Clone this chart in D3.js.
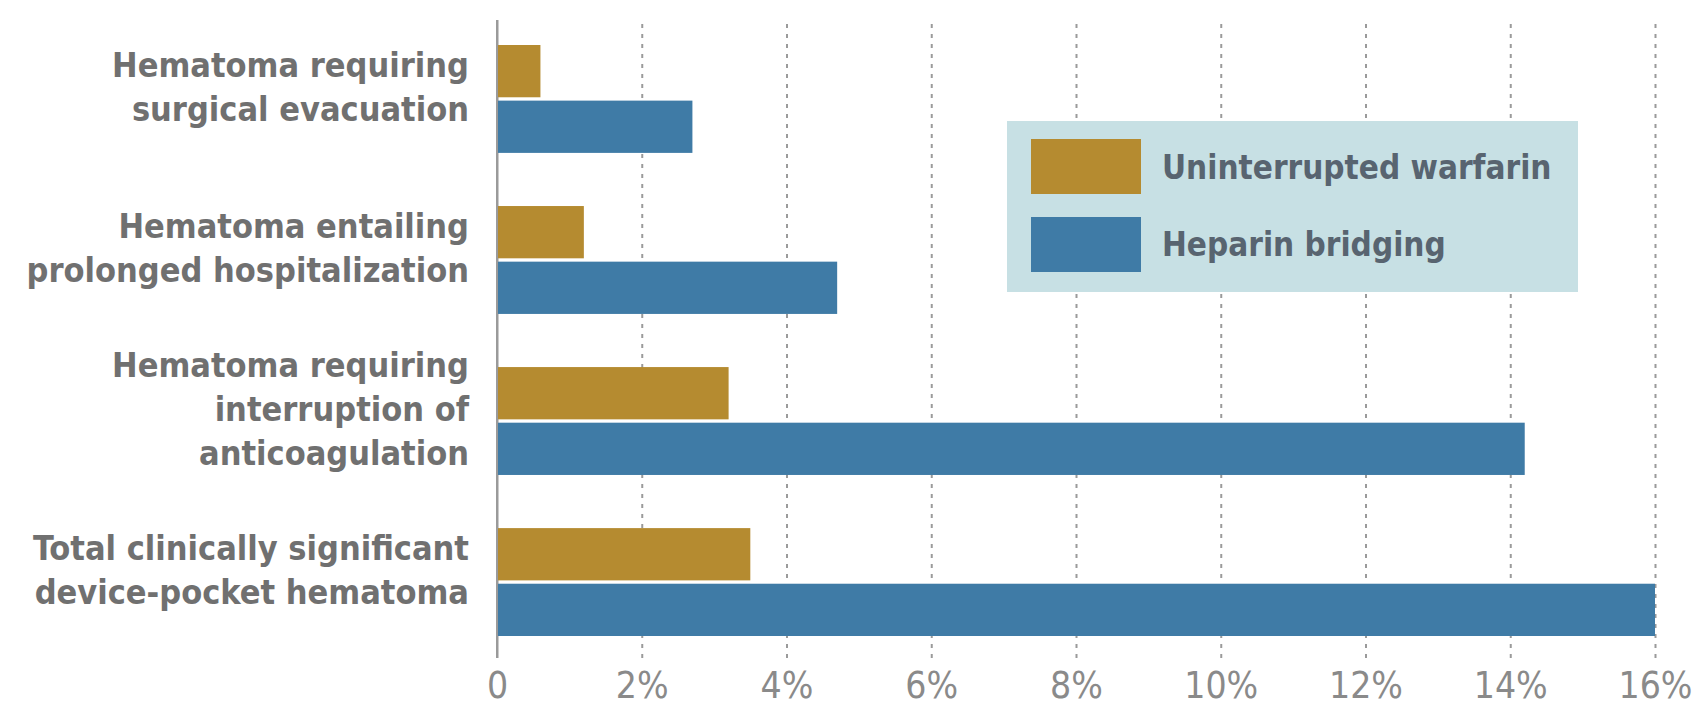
<!DOCTYPE html>
<html>
<head>
<meta charset="utf-8">
<script src="https://cdn.jsdelivr.net/npm/d3@7"></script>
<style>
  body { margin: 0; background: #fff; }
  svg text { font-family: "Liberation Sans Narrow", "DejaVu Sans Condensed", sans-serif; font-weight: bold; }
</style>
</head>
<body>
<svg id="chart"></svg>
<script>
// categories, each label split in lines
const categories = [
  ["Hematoma requiring", "surgical evacuation"],
  ["Hematoma entailing", "prolonged hospitalization"],
  ["Hematoma requiring", "interruption of", "anticoagulation"],
  ["Total clinically significant", "device-pocket hematoma"]
];
const seriesNames = ["Uninterrupted warfarin", "Heparin bridging"];
const warfarin = [0.6, 1.2, 3.2, 3.5];
const heparin = [2.7, 4.7, 14.2, 16.0];
const xTicks = [0, 2, 4, 6, 8, 10, 12, 14, 16];
const colors = ["#b58b30", "#3f7ba6"];

const w = 1698, h = 713;
const margin = { top: 20, left: 497, right: 43, bottomAxis: 658 };

const svg = d3.select("#chart").attr("width", w).attr("height", h);

const xScale = d3.scaleLinear().domain([0, 16]).range([margin.left, w - margin.right]);
const yScale = d3.scaleBand()
  .domain(d3.range(categories.length))
  .range([45, 636])
  .paddingInner(0.33)
  .paddingOuter(0);
const yInner = d3.scaleBand()
  .domain([0, 1])
  .range([0, yScale.bandwidth()])
  .paddingInner(0.06);

// grid + tick labels
const xAxis = d3.axisBottom(xScale)
  .tickValues(xTicks)
  .tickSizeInner(-(margin.bottomAxis - margin.top))
  .tickSizeOuter(0)
  .tickPadding(14)
  .tickFormat(d => d === 0 ? "0" : d + "%");

const gx = svg.append("g")
  .attr("transform", `translate(0,${margin.bottomAxis})`)
  .call(xAxis);
gx.select(".domain").remove();
gx.selectAll(".tick line")
  .attr("stroke", "#9a9a9a")
  .attr("stroke-width", 2)
  .attr("stroke-dasharray", d => d === 0 ? null : "4,6");
gx.selectAll(".tick text")
  .attr("fill", "#8a8a8a")
  .style("font-size", "37px")
  .style("font-weight", "normal");

// bars
const rows = categories.map((c, i) => ({ i, vals: [warfarin[i], heparin[i]] }));
const groups = svg.selectAll("g.grp")
  .data(rows)
  .enter()
  .append("g")
  .attr("class", "grp")
  .attr("transform", d => `translate(0,${yScale(d.i)})`);

groups.selectAll("rect")
  .data(d => d.vals)
  .enter()
  .append("rect")
  .attr("x", xScale(0))
  .attr("y", (d, j) => yInner(j))
  .attr("height", yInner.bandwidth())
  .attr("width", d => xScale(d) - xScale(0))
  .attr("fill", (d, j) => colors[j]);

// redraw zero line on top
svg.append("line")
  .attr("x1", xScale(0)).attr("x2", xScale(0))
  .attr("y1", margin.top).attr("y2", margin.bottomAxis)
  .attr("stroke", "#9a9a9a").attr("stroke-width", 2);

// category labels
const lineH = 44;
const labels = svg.selectAll("text.cat")
  .data(categories)
  .enter()
  .append("text")
  .attr("class", "cat")
  .attr("text-anchor", "end")
  .attr("fill", "#707070")
  .style("font-size", "34px")
  .attr("x", 469)
  .attr("y", (d, i) => yScale(i) + yScale.bandwidth() / 2 - (d.length - 1) * lineH / 2)
  .attr("dy", "0.35em");
labels.selectAll("tspan")
  .data(d => d)
  .enter()
  .append("tspan")
  .attr("x", 469)
  .attr("dy", (d, k) => k === 0 ? 0 : lineH)
  .text(d => d);

// legend
const legend = svg.append("g");
legend.append("rect")
  .attr("x", 1007).attr("y", 121)
  .attr("width", 571).attr("height", 171)
  .attr("fill", "#c7e0e4");
seriesNames.forEach((name, j) => {
  legend.append("rect")
    .attr("x", 1031).attr("y", 139 + j * 78)
    .attr("width", 110).attr("height", 55)
    .attr("fill", colors[j]);
  legend.append("text")
    .attr("x", 1162).attr("y", 167 + j * 77)
    .attr("dy", "0.35em")
    .attr("fill", "#586470")
    .style("font-size", "33px")
    .text(name);
});
</script>
</body>
</html>
